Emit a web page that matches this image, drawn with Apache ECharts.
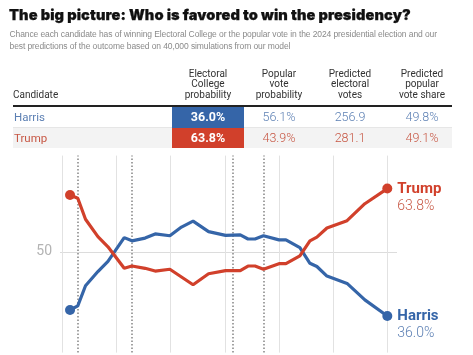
<!DOCTYPE html>
<html>
<head>
<meta charset="utf-8">
<script src="https://cdn.jsdelivr.net/npm/echarts@6/dist/echarts.min.js"></script>
<style>
html,body{margin:0;padding:0;background:#fff;}
#wrap{position:relative;width:473px;height:355px;overflow:hidden;}
#chart{position:absolute;left:0;top:0;width:473px;height:355px;}
#hdr{position:absolute;left:0;top:0;width:473px;height:150px;pointer-events:none;z-index:2;}
.t{position:absolute;white-space:nowrap;}
#title{left:9px;top:6px;font-family:Inter,"Liberation Sans",sans-serif;font-weight:900;font-size:14.6px;letter-spacing:0.1px;color:#111;line-height:18px;-webkit-text-stroke:0.25px #111;}
#sub{left:9.5px;top:29px;font-family:"Liberation Sans",sans-serif;font-size:8.5px;letter-spacing:-0.1px;color:#8a8a8a;line-height:11.5px;}
.th{font-family:Roboto,sans-serif;font-size:10px;color:#333;line-height:10.7px;text-align:center;transform:translateX(-50%);}
.cell{font-family:Roboto,sans-serif;font-size:12.5px;line-height:20px;text-align:center;transform:translateX(-50%);font-weight:300;}
</style>
</head>
<body>
<div id="wrap">
<div id="chart"></div>
<div id="hdr"></div>
</div>
<script>
// ---- data ----
const titleText = 'The big picture: Who is favored to win the presidency?';
const subtitleLines = [
  'Chance each candidate has of winning Electoral College or the popular vote in the 2024 presidential election and our',
  'best predictions of the outcome based on 40,000 simulations from our model'
];
const candidates = ['Harris', 'Trump'];
const columnHeaders = [
  ['Electoral', 'College', 'probability'],
  ['Popular', 'vote', 'probability'],
  ['Predicted', 'electoral', 'votes'],
  ['Predicted', 'popular', 'vote share']
];
const ecProbability = [36.0, 63.8];
const popularProbability = [56.1, 43.9];
const electoralVotes = [256.9, 281.1];
const popularShare = [49.8, 49.1];

// forecast timeline (day index) and Electoral College win probability
const days = [1, 2, 3, 4.6, 5.9, 8, 9, 10.7, 12, 13.9, 15.4, 16.9, 18.9, 21.1, 23, 24, 24.9, 26, 28, 28.9, 30.7, 32, 32.9, 34.2, 36.8, 39.1, 42];
const harrisProb = [37.3, 38.2, 42.6, 45.7, 47.9, 53.1, 52.4, 53.0, 53.9, 53.5, 55.4, 56.7, 54.4, 53.6, 53.7, 52.8, 52.8, 53.5, 52.6, 52.6, 50.9, 47.5, 46.8, 44.7, 43.1, 39.5, 36.0];
const trumpProb  = [62.4, 61.7, 57.1, 53.3, 51.1, 46.4, 46.9, 46.4, 45.8, 46.2, 44.5, 42.8, 45.2, 45.9, 45.9, 46.9, 46.9, 46.2, 47.4, 47.4, 49.1, 52.4, 53.2, 55.2, 56.8, 60.5, 63.8];
const eventDays = [2, 9, 22, 26];
const yTickLabel = 50;

// ---- colours ----
const blue = '#3565a8', red = '#d1402b';
const blueText = '#5b7fb3', redText = '#c75744';

// ---- header / table (HTML) ----
const hdr = document.getElementById('hdr');
function add(cls, id, html, style) {
  const d = document.createElement('div');
  d.className = cls; if (id) d.id = id;
  d.innerHTML = html; Object.assign(d.style, style || {});
  hdr.appendChild(d); return d;
}
add('t', 'title', titleText);
add('t', 'sub', subtitleLines.join('<br>'));
const colCenters = [208, 279, 350, 422];
add('t th', null, 'Candidate', {left: '13px', top: '90px', transform: 'none', textAlign: 'left'});
columnHeaders.forEach((h, i) => add('t th', null, h.join('<br>'), {left: colCenters[i] + 'px', top: '68.6px'}));
add('t', null, '', {left: '13px', top: '105px', width: '439px', height: '2px', background: '#222'});
add('t', null, '', {left: '13px', top: '127px', width: '439px', height: '21px', background: '#f3f3f3'});
add('t', null, '', {left: '13px', top: '126.5px', width: '439px', height: '1px', background: '#e6e6e6'});
const rowTops = [107, 127.5];
const cellBg = [blue, red], txtCol = [blueText, redText];
candidates.forEach((c, r) => {
  const top = rowTops[r] + 'px';
  add('t cell', null, c, {left: '14px', top, transform: 'none', textAlign: 'left', color: txtCol[r], fontSize: '11.5px', fontWeight: '400'});
  add('t', null, '', {left: '172px', top: rowTops[r] + 'px', width: '72px', height: '20.5px', background: cellBg[r]});
  add('t cell', null, ecProbability[r].toFixed(1) + '%', {left: colCenters[0] + 'px', top, color: '#fff', fontWeight: '700', fontSize: '12.5px'});
  add('t cell', null, popularProbability[r].toFixed(1) + '%', {left: colCenters[1] + 'px', top, color: txtCol[r]});
  add('t cell', null, electoralVotes[r].toFixed(1), {left: colCenters[2] + 'px', top, color: txtCol[r]});
  add('t cell', null, popularShare[r].toFixed(1) + '%', {left: colCenters[3] + 'px', top, color: txtCol[r]});
});

// ---- chart ----
const chart = echarts.init(document.getElementById('chart'), null, {renderer: 'canvas'});
const N = days.length;
function pts(arr) { return days.map((d, i) => [d, arr[i]]); }
function endSize(v, p) { return (p.dataIndex === 0 || p.dataIndex === N - 1) ? 10 : 0; }
function lineSeries(name, arr, color, light, extra) {
  return Object.assign({
    name, type: 'line', xAxisIndex: 0, yAxisIndex: 0,
    data: pts(arr), symbol: 'circle', symbolSize: endSize, showAllSymbol: true,
    itemStyle: {color}, lineStyle: {color, width: 3.2}, z: 3,
    animation: false, silent: true,
    endLabel: {
      show: true, distance: 10, offset: [0, 9],
      formatter: () => '{n|' + name + '}\n{v|' + arr[N - 1].toFixed(1) + '%}',
      rich: {
        n: {fontFamily: 'Roboto, sans-serif', fontWeight: 'bold', fontSize: 15, color, lineHeight: 17},
        v: {fontFamily: 'Roboto, sans-serif', fontWeight: 300, fontSize: 14, color: light, lineHeight: 17}
      }
    }
  }, extra || {});
}
const option = {
  animation: false,
  grid: [
    {left: 62.3, width: 325, top: 155.6, height: 197},
    {left: 60, right: 76, top: 151.1, height: 201.5}
  ],
  xAxis: [
    {type: 'value', gridIndex: 0, min: 0, max: 42, interval: 7,
     axisLine: {show: false}, axisTick: {show: false}, axisLabel: {show: false},
     splitLine: {show: true, lineStyle: {color: '#e2e2e2', width: 1}}},
    {type: 'value', gridIndex: 1, min: 0, max: 1, show: false, splitLine: {show: false}}
  ],
  yAxis: [
    {type: 'value', gridIndex: 0, min: 28, max: 71, show: false, splitLine: {show: false}},
    {type: 'value', gridIndex: 1, min: 28, max: 72, interval: 22,
     axisLine: {show: false}, axisTick: {show: false},
     axisLabel: {margin: 8, color: '#b3b3b3', fontSize: 14, fontFamily: 'Roboto, sans-serif',
       formatter: v => (v === yTickLabel ? String(v) : '')},
     splitLine: {show: true, showMinLine: false, showMaxLine: false, lineStyle: {color: '#dcdcdc', width: 1.2}}}
  ],
  series: [
    lineSeries('Harris', harrisProb, blue, blueText, {
      markLine: {
        silent: true, symbol: ['none', 'none'], z: 1, animation: false,
        label: {show: false},
        lineStyle: {color: '#8c8c8c', width: 1.6, type: [1.5, 2]},
        data: eventDays.map(d => ({xAxis: d}))
      }
    }),
    lineSeries('Trump', trumpProb, red, redText)
  ]
};
chart.setOption(option);
</script>
</body>
</html>
